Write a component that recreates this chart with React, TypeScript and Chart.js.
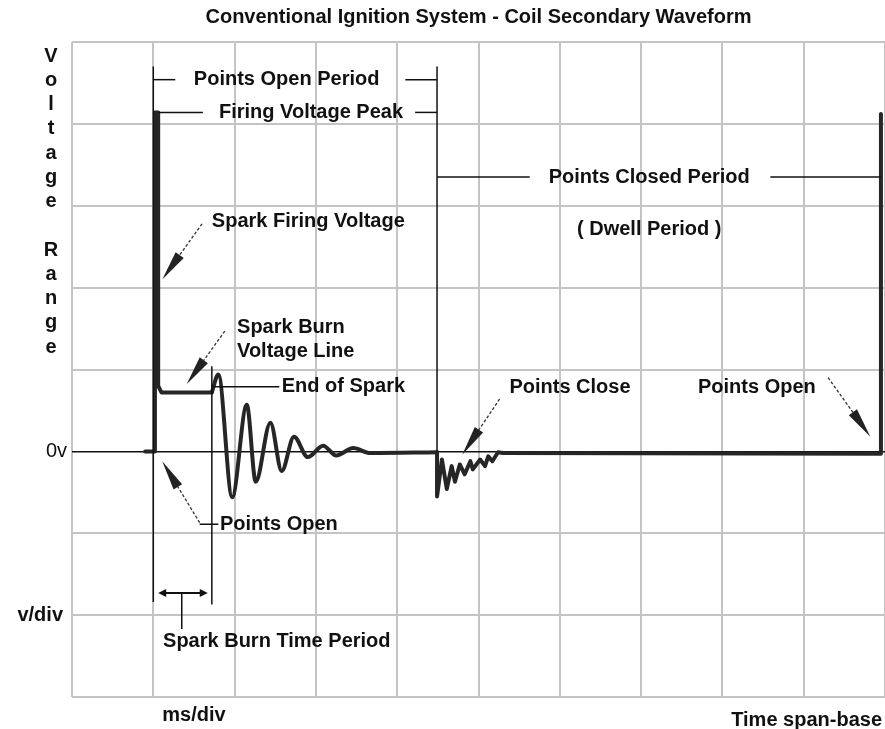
import React, { useEffect, useRef } from "react";
import { Chart, registerables } from "chart.js";

Chart.register(...registerables);

// ---- text ----
const TITLE = "Conventional Ignition System - Coil Secondary Waveform";
const Y_AXIS_LETTERS = ["V", "o", "l", "t", "a", "g", "e", "", "R", "a", "n", "g", "e"];
const ZERO_LABEL = "0v";
const VDIV_LABEL = "v/div";
const MSDIV_LABEL = "ms/div";
const TIMEBASE_LABEL = "Time span-base";

// ---- grid (divisions) ----
const X_DIVS = [0, 10];
const Y_DIVS = [-3, 5];

// ---- waveform data (x: time divisions, y: voltage divisions) ----
const firingTimes = [0.9, 1.02, 1.02, 1.06, 1.06, 1.1, 1.72];
const firingVolts = [0, 0, 4.14, 4.14, 0.8, 0.72, 0.72];

const ringingTimes = [1.72, 1.8, 1.97, 2.15, 2.26, 2.44, 2.58, 2.73, 2.9, 3.09, 3.25, 3.46, 3.67, 4.49];
const ringingVolts = [0.72, 0.94, -0.56, 0.57, -0.37, 0.35, -0.24, 0.18, -0.07, 0.07, -0.05, 0.04, -0.02, -0.01];

const dwellTimes = [4.49, 4.49, 4.55, 4.61, 4.67, 4.71, 4.77, 4.83, 4.9, 4.93, 5.02, 5.08, 5.12, 5.17, 5.24, 5.3, 9.95, 9.95];
const dwellVolts = [-0.01, -0.55, -0.1, -0.46, -0.18, -0.37, -0.16, -0.28, -0.12, -0.22, -0.1, -0.18, -0.06, -0.12, -0.01, -0.02, -0.03, 4.12];

// ---- annotations (in data units) ----
const noteTexts = [
  "Points Open Period",
  "Firing Voltage Peak",
  "Points Closed Period",
  "( Dwell Period )",
  "Spark Firing Voltage",
  "Spark Burn",
  "Voltage Line",
  "End of Spark",
  "Points Open",
  "Spark Burn Time Period",
  "Points Close",
  "Points Open",
];
const noteX = [2.64, 2.94, 7.1, 7.1, 1.72, 2.03, 2.03, 2.58, 1.82, 1.12, 5.38, 7.7];
const noteY = [4.54, 4.14, 3.35, 2.71, 2.81, 1.51, 1.22, 0.79, -0.89, -2.32, 0.78, 0.78];
const noteAlign = ["center", "center", "center", "center", "left", "left", "left", "left", "left", "left", "left", "left"];

const leaderLines = [
  [1.0, 4.7, 1.0, -1.84],
  [4.49, 4.7, 4.49, 0],
  [1.72, 1.04, 1.72, -1.87],
  [1.0, 4.54, 1.27, 4.54],
  [4.1, 4.54, 4.49, 4.54],
  [1.06, 4.14, 1.61, 4.14],
  [4.22, 4.14, 4.49, 4.14],
  [4.49, 3.35, 5.63, 3.35],
  [8.59, 3.35, 9.95, 3.35],
  [1.72, 0.79, 2.55, 0.79],
  [1.57, -0.89, 1.8, -0.89],
  [1.35, -1.73, 1.35, -2.17],
];

const pointerArrows = [
  [1.6, 2.78, 1.11, 2.1],
  [1.88, 1.47, 1.41, 0.82],
  [1.57, -0.87, 1.11, -0.12],
  [5.26, 0.64, 4.8, -0.04],
  [9.3, 0.9, 9.82, 0.18],
];

const spanArrow = [1.06, 1.67, -1.73];

const FONT = 'bold 20px "Liberation Sans", Arial, sans-serif';
const FONT_REGULAR = '20px "Liberation Sans", Arial, sans-serif';

function toPoints(xs: number[], ys: number[]) {
  return xs.map((x, i) => ({ x, y: ys[i] }));
}

const annotationPlugin = {
  id: "annotations",
  afterDraw(chart: any) {
    const { ctx, chartArea } = chart;
    const xs = chart.scales.x;
    const ys = chart.scales.y;
    const px = (v: number) => xs.getPixelForValue(v);
    const py = (v: number) => ys.getPixelForValue(v);
    ctx.save();

    // leader lines
    ctx.strokeStyle = "#111";
    ctx.lineWidth = 1.5;
    leaderLines.forEach(([x1, y1, x2, y2]) => {
      ctx.beginPath();
      ctx.moveTo(px(x1), py(y1));
      ctx.lineTo(px(x2), py(y2));
      ctx.stroke();
    });

    // dashed pointer arrows with tapered heads
    pointerArrows.forEach(([x1, y1, x2, y2]) => {
      const ax = px(x1), ay = py(y1), bx = px(x2), by = py(y2);
      const dx = bx - ax, dy = by - ay;
      const len = Math.hypot(dx, dy);
      const ux = dx / len, uy = dy / len;
      const headLen = Math.min(30, len * 0.45);
      ctx.setLineDash([3, 2]);
      ctx.lineWidth = 1.3;
      ctx.strokeStyle = "#333";
      ctx.beginPath();
      ctx.moveTo(ax, ay);
      ctx.lineTo(bx - ux * headLen, by - uy * headLen);
      ctx.stroke();
      ctx.setLineDash([]);
      const baseX = bx - ux * headLen, baseY = by - uy * headLen;
      const nx = -uy, ny = ux;
      ctx.fillStyle = "#222";
      ctx.beginPath();
      ctx.moveTo(bx, by);
      ctx.lineTo(baseX + nx * 5, baseY + ny * 5);
      ctx.lineTo(baseX - nx * 5, baseY - ny * 5);
      ctx.closePath();
      ctx.fill();
    });

    // double-headed span arrow
    {
      const x1 = px(spanArrow[0]), x2 = px(spanArrow[1]), y = py(spanArrow[2]);
      ctx.strokeStyle = "#111";
      ctx.lineWidth = 2;
      ctx.beginPath();
      ctx.moveTo(x1 + 4, y);
      ctx.lineTo(x2 - 4, y);
      ctx.stroke();
      ctx.fillStyle = "#111";
      ctx.beginPath();
      ctx.moveTo(x1, y);
      ctx.lineTo(x1 + 8, y - 4);
      ctx.lineTo(x1 + 8, y + 4);
      ctx.closePath();
      ctx.fill();
      ctx.beginPath();
      ctx.moveTo(x2, y);
      ctx.lineTo(x2 - 8, y - 4);
      ctx.lineTo(x2 - 8, y + 4);
      ctx.closePath();
      ctx.fill();
    }

    // annotation texts
    ctx.font = FONT;
    ctx.fillStyle = "#111";
    ctx.textBaseline = "middle";
    noteTexts.forEach((t, i) => {
      ctx.textAlign = noteAlign[i];
      ctx.fillText(t, px(noteX[i]), py(noteY[i]));
    });

    // axis-side labels
    ctx.textAlign = "center";
    Y_AXIS_LETTERS.forEach((ch, i) => {
      if (ch) ctx.fillText(ch, chartArea.left - 21, chartArea.top + 14 + i * 24.25);
    });
    ctx.textAlign = "right";
    ctx.fillText(VDIV_LABEL, chartArea.left - 9, py(-2));
    ctx.textAlign = "center";
    ctx.fillText(MSDIV_LABEL, px(1.5), chartArea.bottom + 18);
    ctx.textAlign = "right";
    ctx.fillText(TIMEBASE_LABEL, chartArea.right - 3, chartArea.bottom + 23);
    ctx.font = FONT_REGULAR;
    ctx.fillText(ZERO_LABEL, chartArea.left - 5, py(0));

    // title
    ctx.font = FONT;
    ctx.textAlign = "center";
    ctx.fillText(TITLE, px(5), 17);

    ctx.restore();
  },
};

export default function App() {
  const ref = useRef<HTMLCanvasElement | null>(null);

  useEffect(() => {
    if (!ref.current) return;
    const traceStyle = {
      borderColor: "#262626",
      borderWidth: 4,
      pointRadius: 0,
      fill: false,
      borderJoinStyle: "round" as const,
      borderCapStyle: "round" as const,
    };
    const chart = new Chart(ref.current, {
      type: "line",
      data: {
        datasets: [
          { ...traceStyle, label: "Firing", data: toPoints(firingTimes, firingVolts), tension: 0 },
          {
            ...traceStyle,
            label: "Ringing",
            data: toPoints(ringingTimes, ringingVolts),
            cubicInterpolationMode: "monotone",
          },
          { ...traceStyle, label: "Dwell", data: toPoints(dwellTimes, dwellVolts), tension: 0 },
        ],
      },
      options: {
        responsive: false,
        animation: false,
        devicePixelRatio: 1,
        layout: { padding: { left: 72, top: 42, right: 0, bottom: 32 } },
        plugins: { legend: { display: false }, tooltip: { enabled: false }, title: { display: false } },
        scales: {
          x: {
            type: "linear",
            min: X_DIVS[0],
            max: X_DIVS[1],
            ticks: { display: false, stepSize: 1 },
            grid: { color: "#c4c4c4", lineWidth: 2, drawTicks: false },
            border: { display: false },
          },
          y: {
            type: "linear",
            min: Y_DIVS[0],
            max: Y_DIVS[1],
            ticks: { display: false, stepSize: 1 },
            grid: {
              color: (c: any) => (c.tick && c.tick.value === 0 ? "#111" : "#c4c4c4"),
              lineWidth: (c: any) => (c.tick && c.tick.value === 0 ? 1.5 : 2),
              drawTicks: false,
            },
            border: { display: false },
          },
        },
      },
      plugins: [annotationPlugin],
    });
    return () => chart.destroy();
  }, []);

  return (
    <div style={{ position: "absolute", left: 0, top: 0, width: 885, height: 729, background: "#fff" }}>
      <canvas ref={ref} width={885} height={729} style={{ display: "block" }} />
    </div>
  );
}
